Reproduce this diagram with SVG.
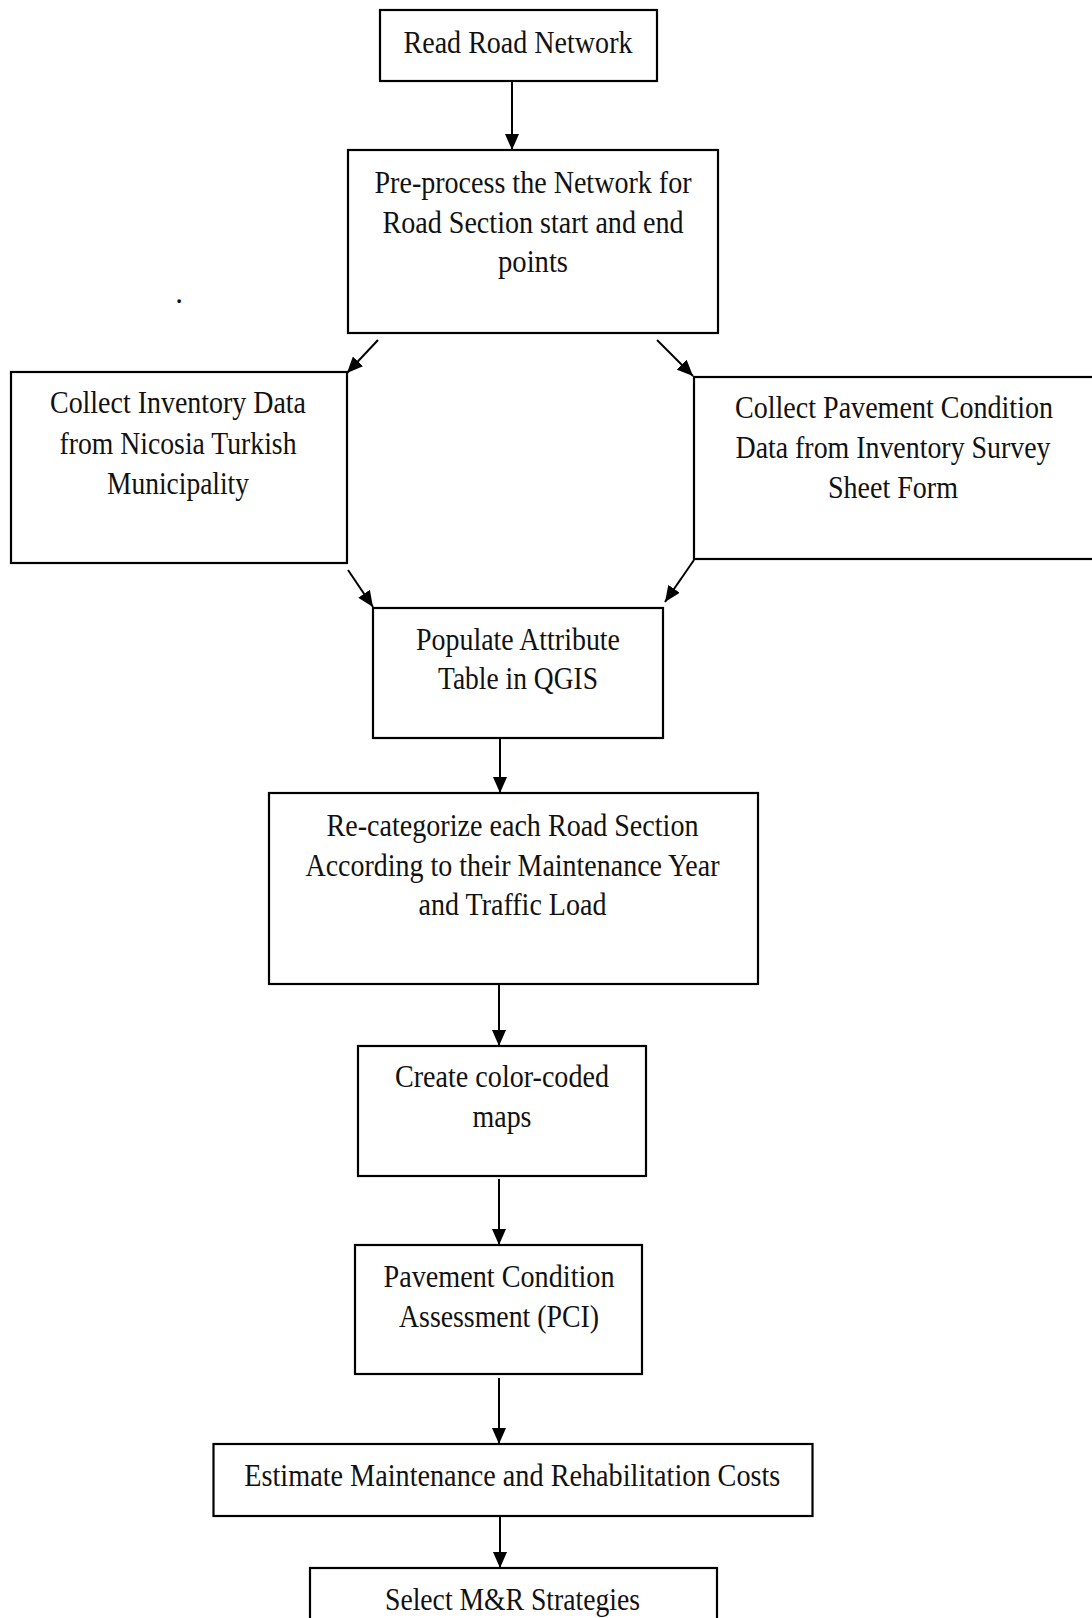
<svg xmlns="http://www.w3.org/2000/svg" width="1092" height="1618" viewBox="0 0 1092 1618">
<style>
.box{fill:#fff;stroke:#000;stroke-width:2.2}
.t{font-family:"Liberation Serif","Times New Roman",serif;font-size:31px;fill:#111;text-anchor:middle}
.c{stroke:#000;stroke-width:2;fill:none;marker-end:url(#ah)}
</style>
<defs>
<marker id="ah" markerUnits="userSpaceOnUse" markerWidth="16" markerHeight="14" refX="16" refY="7" orient="auto">
<path d="M0,0 L16,7 L0,14 z" fill="#000"/>
</marker>
</defs>
<rect width="1092" height="1618" fill="#fff"/>
<g id="connectors">
<line class="c" x1="512" y1="82" x2="512" y2="150"/>
<line class="c" x1="378" y1="340" x2="347" y2="373"/>
<line class="c" x1="657" y1="340" x2="693" y2="376"/>
<line class="c" x1="348" y1="570" x2="373" y2="607"/>
<line class="c" x1="694" y1="560" x2="665" y2="602"/>
<line class="c" x1="500" y1="738" x2="500" y2="793"/>
<line class="c" x1="499" y1="984" x2="499" y2="1046"/>
<line class="c" x1="499" y1="1179" x2="499" y2="1245"/>
<line class="c" x1="499" y1="1378" x2="499" y2="1444"/>
<line class="c" x1="500" y1="1516" x2="500" y2="1568"/>
</g>
<g id="n1">
<rect class="box" x="380" y="10" width="277" height="71"/>
<text class="t" x="518" y="53" textLength="229" lengthAdjust="spacingAndGlyphs">Read Road Network</text>
</g>
<g id="n2">
<rect class="box" x="348" y="150" width="370" height="183"/>
<text class="t" x="533" y="193" textLength="317" lengthAdjust="spacingAndGlyphs">Pre-process the Network for</text>
<text class="t" x="533" y="233" textLength="301" lengthAdjust="spacingAndGlyphs">Road Section start and end</text>
<text class="t" x="533" y="272" textLength="70" lengthAdjust="spacingAndGlyphs">points</text>
</g>
<g id="n3">
<rect class="box" x="11" y="372" width="336" height="191"/>
<text class="t" x="178" y="413" textLength="256" lengthAdjust="spacingAndGlyphs">Collect Inventory Data</text>
<text class="t" x="178" y="454" textLength="237" lengthAdjust="spacingAndGlyphs">from Nicosia Turkish</text>
<text class="t" x="178" y="494" textLength="142" lengthAdjust="spacingAndGlyphs">Municipality</text>
</g>
<g id="n4">
<rect class="box" x="694" y="377" width="410" height="182"/>
<text class="t" x="894" y="418" textLength="318" lengthAdjust="spacingAndGlyphs">Collect Pavement Condition</text>
<text class="t" x="893" y="458" textLength="315" lengthAdjust="spacingAndGlyphs">Data from Inventory Survey</text>
<text class="t" x="893" y="498" textLength="130" lengthAdjust="spacingAndGlyphs">Sheet Form</text>
</g>
<g id="n5">
<rect class="box" x="373" y="608" width="290" height="130"/>
<text class="t" x="518" y="650" textLength="204" lengthAdjust="spacingAndGlyphs">Populate Attribute</text>
<text class="t" x="518" y="689" textLength="160" lengthAdjust="spacingAndGlyphs">Table  in QGIS</text>
</g>
<g id="n6">
<rect class="box" x="269" y="793" width="489" height="191"/>
<text class="t" x="512.5" y="836" textLength="372" lengthAdjust="spacingAndGlyphs">Re-categorize  each Road Section</text>
<text class="t" x="512.5" y="876" textLength="414" lengthAdjust="spacingAndGlyphs">According to their Maintenance Year</text>
<text class="t" x="512.5" y="915" textLength="188" lengthAdjust="spacingAndGlyphs">and Traffic  Load</text>
</g>
<g id="n7">
<rect class="box" x="358" y="1046" width="288" height="130"/>
<text class="t" x="502" y="1087" textLength="214" lengthAdjust="spacingAndGlyphs">Create color-coded</text>
<text class="t" x="502" y="1127" textLength="59" lengthAdjust="spacingAndGlyphs">maps</text>
</g>
<g id="n8">
<rect class="box" x="355" y="1245" width="287" height="129"/>
<text class="t" x="499" y="1287" textLength="231" lengthAdjust="spacingAndGlyphs">Pavement Condition</text>
<text class="t" x="499" y="1327" textLength="200" lengthAdjust="spacingAndGlyphs">Assessment (PCI)</text>
</g>
<g id="n9">
<rect class="box" x="213.5" y="1444" width="599" height="72"/>
<text class="t" x="512.3" y="1486" textLength="536" lengthAdjust="spacingAndGlyphs">Estimate Maintenance and Rehabilitation Costs</text>
</g>
<g id="n10">
<rect class="box" x="310" y="1568" width="407" height="80"/>
<text class="t" x="512.5" y="1610" textLength="255" lengthAdjust="spacingAndGlyphs">Select M&amp;R Strategies</text>
</g>
<text class="t" x="179" y="303">.</text>
</svg>
